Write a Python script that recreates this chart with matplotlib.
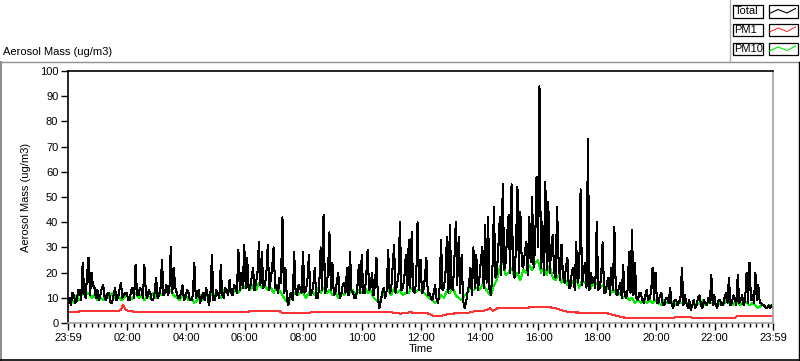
import matplotlib
matplotlib.use("Agg")
import matplotlib.pyplot as plt
import numpy as np
from matplotlib.lines import Line2D
from matplotlib.patches import Rectangle

plt.rcParams['font.family'] = ['Liberation Sans', 'DejaVu Sans']
plt.rcParams['font.size'] = 8

W, H = 800, 361

# plot names and colours (LabVIEW style)
series_names = ["Total", "PM1", "PM10"]
series_colors = ["#000000", "#ff3333", "#00ee00"]

# Total aerosol mass, one reading every 3 minutes from 23:59 (40 per row = 2 h)
total_mass = [
    8, 10, 7, 12, 11, 8, 9, 13, 13, 9, 24, 12, 10, 19, 26, 11, 20, 15, 14, 10,
    13, 9, 11, 14, 15, 10, 9, 12, 12, 8, 8, 11, 14, 9, 10, 13, 16, 10, 11, 12,
    12, 9, 9, 13, 14, 10, 23, 11, 11, 14, 13, 10, 23, 12, 10, 13, 12, 9, 9, 12,
    18, 10, 11, 14, 25, 11, 12, 15, 11, 13, 30, 12, 22, 14, 12, 10, 10, 12, 15, 9,
    10, 13, 12, 9, 9, 11, 24, 10, 11, 13, 8, 10, 12, 9, 14, 11, 7, 12, 27, 9,
    9, 13, 12, 10, 23, 11, 10, 14, 13, 11, 17, 12, 11, 15, 14, 12, 29, 13, 20, 14,
    31, 14, 26, 13, 14, 18, 22, 13, 16, 20, 32, 15, 28, 14, 15, 19, 31, 13, 17, 22,
    30, 14, 15, 12, 18, 16, 42, 12, 22, 10, 7, 11, 12, 9, 28, 12, 11, 15, 14, 12,
    28, 12, 13, 17, 27, 11, 12, 15, 22, 10, 10, 14, 30, 13, 43, 12, 14, 20, 36, 13,
    24, 11, 12, 16, 20, 10, 11, 15, 16, 12, 22, 11, 28, 13, 12, 10, 10, 14, 23, 12,
    27, 12, 12, 18, 29, 13, 14, 20, 11, 15, 26, 10, 6, 9, 12, 14, 10, 13, 29, 12,
    13, 22, 31, 12, 15, 19, 40, 13, 14, 18, 27, 12, 33, 14, 36, 13, 12, 16, 40, 13,
    25, 12, 13, 18, 26, 11, 12, 10, 9, 12, 15, 9, 8, 14, 33, 13, 14, 20, 34, 12,
    39, 14, 13, 24, 40, 15, 34, 12, 27, 9, 6, 8, 12, 15, 22, 11, 30, 14, 27, 13,
    17, 24, 30, 14, 39, 16, 42, 13, 11, 22, 46, 18, 20, 30, 42, 19, 55, 21, 24, 35,
    43, 20, 55, 22, 18, 30, 54, 20, 44, 23, 22, 28, 32, 19, 42, 24, 50, 22, 30, 58,
    30, 94, 22, 40, 19, 56, 21, 48, 20, 30, 35, 20, 18, 46, 25, 17, 31, 19, 16, 22,
    26, 14, 14, 20, 22, 13, 32, 16, 19, 53, 15, 20, 24, 14, 73, 13, 20, 16, 18, 14,
    40, 13, 14, 18, 32, 12, 12, 16, 18, 11, 22, 13, 38, 12, 11, 14, 16, 10, 23, 11,
    10, 13, 28, 12, 37, 11, 24, 10, 9, 12, 12, 9, 8, 11, 13, 9, 10, 12, 22, 9,
    20, 8, 8, 11, 12, 7, 7, 10, 10, 8, 14, 7, 6, 9, 9, 7, 8, 10, 22, 7,
    11, 8, 6, 9, 5, 7, 9, 6, 7, 10, 11, 7, 6, 9, 8, 7, 10, 8, 19, 7,
    11, 7, 6, 9, 9, 7, 7, 10, 12, 8, 18, 7, 8, 11, 10, 7, 19, 8, 9, 11,
    7, 9, 20, 8, 24, 9, 11, 8, 20, 9, 15, 8, 8, 7, 7, 6, 6, 7, 6, 7,
    6,
]

# PM10, one reading every 6 minutes from 23:59 (20 per row = 2 h)
pm10_mass = [
    8, 10, 8, 11, 9, 12, 11, 12, 10, 11, 9, 10, 9, 11, 10, 12, 10, 11, 9, 10,
    11, 9, 10, 12, 10, 11, 9, 11, 10, 12, 10, 12, 11, 13, 12, 13, 11, 10, 9, 11,
    11, 9, 10, 8, 9, 11, 9, 11, 10, 12, 11, 12, 10, 13, 12, 13, 11, 14, 12, 14,
    14, 16, 13, 15, 13, 16, 14, 15, 13, 14, 12, 15, 13, 11, 9, 8, 10, 12, 11, 12,
    12, 10, 12, 13, 11, 14, 12, 14, 12, 13, 11, 12, 10, 12, 11, 14, 12, 13, 11, 13,
    12, 14, 12, 13, 10, 9, 8, 11, 12, 13, 11, 14, 12, 13, 11, 12, 12, 14, 12, 13,
    13, 12, 11, 10, 9, 8, 9, 11, 10, 13, 12, 14, 11, 10, 9, 11, 12, 14, 13, 14,
    13, 15, 14, 12, 11, 15, 17, 22, 25, 19, 20, 22, 18, 20, 17, 21, 20, 23, 21, 24,
    25, 20, 22, 19, 23, 18, 17, 19, 16, 18, 15, 17, 16, 18, 14, 17, 16, 15, 14, 16,
    16, 14, 15, 13, 14, 12, 13, 11, 12, 10, 11, 9, 10, 8, 9, 8, 9, 8, 9, 8,
    9, 8, 7, 9, 8, 9, 8, 7, 8, 8, 9, 7, 6, 8, 7, 8, 9, 7, 8, 8,
    8, 7, 8, 7, 9, 8, 7, 8, 8, 7, 9, 8, 7, 8, 7, 6, 7, 7, 6, 7,
    7,
]

# PM1, readings at irregular hours of the day
pm1_hours = [0.0, 0.4, 1.7, 1.8, 1.85, 1.95, 2.1, 2.35, 2.4, 4.8, 6.1, 6.15,
             7.2, 7.3, 8.2, 8.25, 11.0, 11.3, 11.6, 12.2, 12.4, 12.7, 13.0,
             13.6, 13.8, 14.2, 14.35, 14.45, 14.6, 15.3, 16.3, 16.6, 16.9,
             17.1, 18.3, 18.5, 18.9, 19.1, 19.2, 20.6, 20.65, 21.2, 21.25,
             22.0, 22.7, 22.75, 23.98]
pm1_mass = [4.3, 4.6, 4.6, 5.5, 7.2, 5.2, 4.6, 4.5, 4.2, 4.2, 4.2, 4.6,
            4.6, 3.8, 3.8, 4.2, 4.2, 3.7, 4.2, 4.0, 2.9, 2.9, 3.7,
            4.0, 4.6, 5.0, 5.8, 4.9, 5.8, 6.0, 6.4, 5.8, 4.7,
            4.2, 4.0, 3.3, 2.2, 2.0, 1.9, 1.9, 2.3, 2.3, 1.9,
            2.0, 2.1, 2.8, 2.8]

tick_hours = [-1 / 60, 2, 4, 6, 8, 10, 12, 14, 16, 18, 20, 22, 24 - 1 / 60]
tick_labels = ["23:59", "02:00", "04:00", "06:00", "08:00", "10:00", "12:00",
               "14:00", "16:00", "18:00", "20:00", "22:00", "23:59"]

t0 = -1 / 60
total_hours = t0 + 0.05 * np.arange(len(total_mass))
pm10_hours = t0 + 0.1 * np.arange(len(pm10_mass))


def fx(x):
    return x / W


def fy(y):
    return 1 - y / H


fig = plt.figure(figsize=(W / 100, H / 100), dpi=100)
fig.patch.set_facecolor("white")

ax = fig.add_axes([fx(68), fy(323), (773 - 68) / W, (323 - 71) / H])
# green underneath, black spikes drawn over it
ax.plot(pm10_hours, pm10_mass, color=series_colors[2], lw=0.75, antialiased=False)
ax.plot(total_hours, total_mass, color=series_colors[0], lw=0.75, antialiased=False)
ax.plot(pm1_hours, pm1_mass, color=series_colors[1], lw=0.75, antialiased=False)

ax.set_xlim(tick_hours[0], tick_hours[-1])
ax.set_ylim(0, 100)
ax.set_yticks(range(0, 101, 10))
ax.set_xticks(tick_hours)
ax.set_xticklabels(tick_labels)
ax.set_xticks(np.arange(0.2, 24, 0.2), minor=True)
ax.tick_params(axis="both", which="major", length=5, width=1, color="black",
               labelsize=8, pad=2)
ax.tick_params(axis="x", which="minor", length=3, width=1, color="black")
ax.set_ylabel("Aerosol Mass (ug/m3)", fontsize=8, labelpad=6)
ax.set_xlabel("Time", fontsize=8, labelpad=1)

ax.spines["left"].set_color("black")
ax.spines["top"].set_color("black")
ax.spines["right"].set_color("#a0a0a0")
ax.spines["bottom"].set_color("#a0a0a0")
for s in ax.spines.values():
    s.set_linewidth(1.2)

# chart title above the panel
fig.text(fx(3), fy(52), "Aerosol Mass (ug/m3)", fontsize=8, va="center", ha="left")

# panel frame
def fline(x0, y0, x1, y1, color, lw=1.0):
    fig.add_artist(Line2D([fx(x0), fx(x1)], [fy(y0), fy(y1)],
                          transform=fig.transFigure, color=color, lw=lw))

fline(0, 61.5, 799, 61.5, "#909090")
fline(1, 61.5, 1, 360, "#909090", 1.5)
fline(799, 61.5, 799, 360, "black")
fline(0, 359.5, 799, 359.5, "black", 1.2)
fline(729.5, 0, 729.5, 61.5, "#b0b0b0")

# legend
rows_y = [5, 23.5, 42.5]
for name, color, y in zip(series_names, series_colors, rows_y):
    fig.add_artist(Rectangle((fx(732.5), fy(y + 12.5)), 30 / W, 12.5 / H,
                             transform=fig.transFigure, facecolor="white",
                             edgecolor="black", lw=0.9))
    fig.text(fx(734.5), fy(y + 6.5), name, fontsize=8, va="center", ha="left")
    fig.add_artist(Rectangle((fx(768.5), fy(y + 12.5)), 29 / W, 12.5 / H,
                             transform=fig.transFigure, facecolor="white",
                             edgecolor="black", lw=0.9))
    zx = [769.5, 778, 787, 795.5]
    zy = [y + 8.5, y + 4.5, y + 8, y + 3.5]
    fig.add_artist(Line2D([fx(v) for v in zx], [fy(v) for v in zy],
                          transform=fig.transFigure, color=color, lw=0.8))

fig.savefig("out.png", dpi=100)
